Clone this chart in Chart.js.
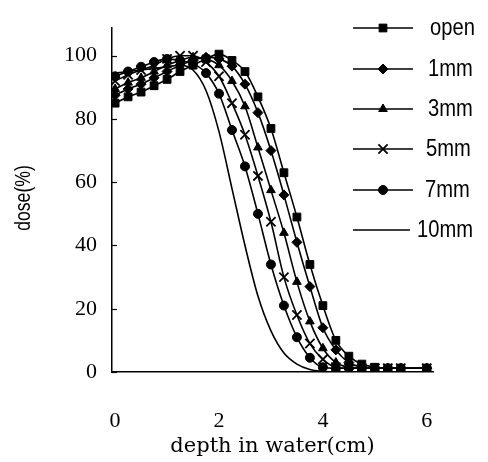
<!DOCTYPE html>
<html>
<head>
<meta charset="utf-8">
<script src="https://cdn.jsdelivr.net/npm/chart.js@4.4.0/dist/chart.umd.min.js"></script>
<style>
  html, body { margin: 0; padding: 0; background: #fff; }
  #wrap { width: 488px; height: 462px; }
</style>
</head>
<body>
<div id="wrap"><canvas id="chart" width="488" height="462"></canvas></div>
<script>
// depth in water (cm)
const depth = [0, 0.25, 0.5, 0.75, 1, 1.25, 1.5, 1.75, 2, 2.25, 2.5, 2.75, 3, 3.25, 3.5, 3.75, 4, 4.25, 4.5, 4.75, 5, 5.25, 5.5, 6];

// dose (%) per bolus thickness
const doseOpen = [85, 87, 88.5, 90.5, 92.5, 95, 97, 99, 100.5, 98.5, 95, 87, 77, 63, 49, 34, 21, 10, 5, 2.5, 1.5, 1.2, 1.2, 1.2];
const dose1mm = [87.5, 89.5, 91, 93, 95, 97, 98.5, 99.5, 99, 96.7, 91, 82, 70, 56, 41, 27, 14, 7, 3, 1.5, 1.2, 1.2, 1.2, 1.2];
const dose3mm = [89.5, 91.5, 93, 95, 97, 98.5, 99.5, 99, 97, 92, 84, 71, 57.5, 44, 28.5, 16, 7.5, 3, 1.5, 1.2, 1.2, 1.2, 1.2, 1.2];
const dose5mm = [92, 94, 95.5, 97, 99, 100, 100, 98, 93.5, 85, 75, 62, 47.5, 30, 18, 9, 4, 1.5, 1.2, 1.2, 1.2, 1.2, 1.2, 1.2];
const dose7mm = [93.5, 95, 96.5, 98, 99, 98.5, 97.5, 94.5, 88, 76.5, 65, 50, 34, 21, 11, 4.5, 1.5, 1.2, 1.2, 1.2, 1.2, 1.2, 1.2, 1.2];
const dose10mm = [94.5, 95, 95.5, 96, 96.5, 97, 95.5, 89, 76, 58, 40, 24, 13, 6, 2.5, 0.8, 0.2, 0, 0, 0, 0, 0, 0, 0];

const seriesNames = ["open", "1mm", "3mm", "5mm", "7mm", "10mm"];
const xTicks = [0, 2, 4, 6];
const yTicks = [0, 20, 40, 60, 80, 100];
const yTitle = "dose(%)";

const seriesData = [doseOpen, dose1mm, dose3mm, dose5mm, dose7mm, dose10mm];
const markerStyles = [
  { pointStyle: "rect", radius: 5.5 },
  { pointStyle: "rectRot", radius: 5 },
  { pointStyle: "triangle", radius: 5 },
  { pointStyle: "crossRot", radius: 6.5 },
  { pointStyle: "circle", radius: 4.5 },
  { pointStyle: false, radius: 0 }
];

const datasets = seriesNames.map((name, i) => ({
  label: name,
  data: depth.map((d, j) => ({ x: d, y: seriesData[i][j] })),
  borderColor: "#000",
  backgroundColor: "#000",
  borderWidth: 1.6,
  pointStyle: markerStyles[i].pointStyle,
  pointRadius: markerStyles[i].radius,
  pointBorderWidth: i === 3 ? 1.8 : 1,
  pointBackgroundColor: "#000",
  pointBorderColor: "#000",
  cubicInterpolationMode: "monotone",
  fill: false
}));

// inside tick marks on the y axis, the y title and the legend on the right
const extrasPlugin = {
  id: "extras",
  afterDraw(chart) {
    const ctx = chart.ctx;
    const yScale = chart.scales.y;
    const left = chart.chartArea.left;
    ctx.save();
    ctx.strokeStyle = "#000";
    ctx.lineWidth = 1.2;
    yTicks.forEach(v => {
      const py = Math.round(yScale.getPixelForValue(v)) + 0.5;
      ctx.beginPath();
      ctx.moveTo(left, py);
      ctx.lineTo(left + 5, py);
      ctx.stroke();
    });

    // y title, narrow sans
    ctx.save();
    ctx.translate(24, 198);
    ctx.rotate(-Math.PI / 2);
    ctx.scale(0.8, 1);
    ctx.font = '22px "Liberation Sans", sans-serif';
    ctx.fillStyle = "#000";
    ctx.textAlign = "center";
    ctx.textBaseline = "middle";
    ctx.fillText(yTitle, 0, 0);
    ctx.restore();

    // legend
    const rowY = [28, 69, 109, 149, 190, 230];
    const textX = [430, 428, 428, 426, 425, 417];
    seriesNames.forEach((name, i) => {
      const y = rowY[i];
      const x1 = 353, x2 = i === 5 ? 410 : 413;
      ctx.strokeStyle = "#000";
      ctx.lineWidth = 1.6;
      ctx.beginPath();
      ctx.moveTo(x1, y);
      ctx.lineTo(x2, y);
      ctx.stroke();
      if (markerStyles[i].pointStyle) {
        ctx.fillStyle = "#000";
        ctx.lineWidth = i === 3 ? 1.8 : 1;
        Chart.helpers.drawPoint(ctx, {
          pointStyle: markerStyles[i].pointStyle,
          radius: markerStyles[i].radius,
          rotation: 0,
          borderWidth: ctx.lineWidth
        }, 383, y);
      }
      ctx.save();
      ctx.translate(textX[i], y);
      ctx.scale(0.84, 1);
      ctx.font = '24px "Liberation Sans", sans-serif';
      ctx.textBaseline = "middle";
      ctx.textAlign = "left";
      ctx.fillStyle = "#000";
      ctx.fillText(name, 0, 0);
      ctx.restore();
    });
    ctx.restore();
  }
};

new Chart(document.getElementById("chart"), {
  type: "line",
  data: { datasets: datasets },
  options: {
    responsive: false,
    animation: false,
    layout: { padding: { top: 8, right: 55, bottom: 0, left: 0 } },
    plugins: { legend: { display: false }, tooltip: { enabled: false } },
    scales: {
      x: {
        type: "linear",
        min: -0.06,
        max: 6.12,
        afterBuildTicks: scale => { scale.ticks = xTicks.map(v => ({ value: v })); },
        afterFit: scale => { scale.height = 90; },
        grid: { display: false, drawTicks: false },
        border: { display: true, color: "#000", width: 1.5 },
        ticks: {
          color: "#000",
          padding: 36,
          font: { family: '"Liberation Serif", serif', size: 22 }
        },
        title: {
          display: true,
          text: "depth in water(cm)",
          color: "#000",
          font: { family: '"DejaVu Serif", serif', size: 21 },
          padding: { top: 0, bottom: 3 }
        }
      },
      y: {
        min: 0,
        max: 108.7,
        afterBuildTicks: scale => { scale.ticks = yTicks.map(v => ({ value: v })); },
        afterFit: scale => { scale.width = 112; },
        grid: { display: false, drawTicks: false },
        border: { display: true, color: "#000", width: 1.5 },
        ticks: {
          color: "#000",
          padding: 15,
          font: { family: '"Liberation Serif", serif', size: 22 }
        },
        title: { display: false }
      }
    }
  },
  plugins: [extrasPlugin]
});
</script>
</body>
</html>
